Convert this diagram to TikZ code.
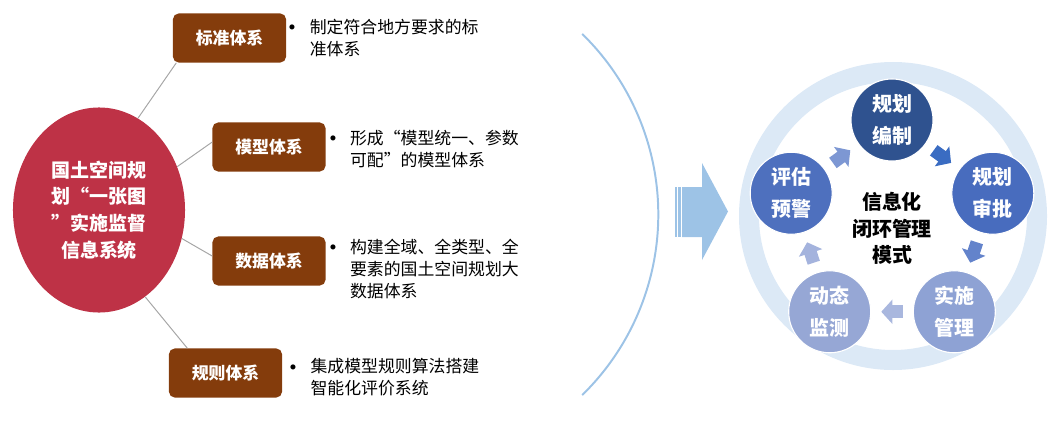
\documentclass[tikz,border=0pt]{standalone}
\usepackage{fontspec}
\setmainfont{Noto Sans CJK SC}
\usetikzlibrary{arrows.meta,positioning,shapes.geometric}
\definecolor{hubred}{RGB}{190,50,70}
\definecolor{boxbrown}{RGB}{132,60,12}
\definecolor{linegray}{RGB}{166,166,166}
\definecolor{arcblue}{RGB}{157,195,230}
\definecolor{ringblue}{RGB}{220,233,246}
\definecolor{stageA}{RGB}{47,82,143}
\definecolor{stageB}{RGB}{72,108,190}
\definecolor{stageC}{RGB}{142,162,212}
\definecolor{stageD}{RGB}{150,167,213}
\definecolor{stageE}{RGB}{78,112,190}
\definecolor{flowA}{RGB}{58,108,194}
\definecolor{flowB}{RGB}{99,131,203}
\definecolor{flowC}{RGB}{169,183,222}
\definecolor{flowD}{RGB}{164,179,221}
\definecolor{flowE}{RGB}{125,151,211}
\newcommand{\dotmark}{\llap{\raisebox{-2.2pt}{\fontsize{17}{17}\selectfont •}\hspace{3.5pt}}}
\begin{document}
\begin{tikzpicture}[x=0.025cm,y=0.025cm,node distance=0.6cm,>=Latex]
\tikzstyle{hub}=[ellipse,fill=hubred,minimum width=4.3cm,minimum height=5.125cm,inner sep=0pt,align=center,text=white,font=\fontsize{13.5}{19}\selectfont\bfseries]
\tikzstyle{box}=[fill=boxbrown,rounded corners=4pt,minimum width=2.825cm,minimum height=1.225cm,text=white,font=\fontsize{12}{14}\selectfont\bfseries]
\tikzstyle{note}=[inner sep=0pt,align=left,font=\fontsize{12}{15.4}\selectfont]
\tikzstyle{stage}=[circle,draw=white,line width=0.8pt,minimum size=2.05cm,inner sep=0pt,align=center,text=white,font=\fontsize{14.2}{22.8}\selectfont\bfseries]
\tikzstyle{flow}=[line width=0.32cm,-{Triangle[width=0.6cm,length=0.28cm]},shorten <=0.25cm,shorten >=0.25cm]
\tikzstyle{link}=[linegray,line width=0.7pt]
\useasboundingbox (0,0) rectangle (1056,423);
\node[hub] (sys) at (99,213) {国土空间规\\划“一张图\\”实施监督\\信息系统};
\node[box] (std) at (229.5,385) {标准体系};
\node[box] (mod) at (269,276) {模型体系};
\node[box] (dat) at (269,162) {数据体系};
\node[box] (rul) at (225.5,50) {规则体系};
\draw[link] (sys.67)--(std.205); \draw[link] (sys.29)--(mod.175); \draw[link] (sys.-19)--(dat.175); \draw[link] (sys.-62)--(rul.147);
\node[note,right=0.58cm of std] (stdtxt) {\dotmark 制定符合地方要求的标\\准体系};
\node[note,right=0.6cm of mod,yshift=-0.05cm] (modtxt) {\dotmark 形成“模型统一、参数\\可配”的模型体系};
\node[note,right=0.6cm of dat,yshift=-0.2cm] (dattxt) {\dotmark 构建全域、全类型、全\\要素的国土空间规划大\\数据体系};
\node[note,right=0.7cm of rul,yshift=-0.11cm] (rultxt) {\dotmark 集成模型规则算法搭建\\智能化评价系统};
\draw[arcblue,line width=1.4pt] (406,208.5) ++(45.7:252.3) arc[start angle=45.7,end angle=-45.7,radius=252.3];
\fill[arcblue] (682,186) -- (702,186) -- (702,163) -- (728,211.5) -- (702,260) -- (702,236) -- (682,236) -- cycle;
\fill[arcblue] (674.5,186) rectangle (676.5,236); \fill[arcblue] (678,186) rectangle (680.8,236);
\draw[ringblue,line width=0.5cm] (893,207) circle[radius=144];
\coordinate (ctr) at (892,197);
\node[stage,fill=stageA] (bz) at ([shift={(90:106)}]ctr) {规划\\编制};
\node[stage,fill=stageB] (sp) at ([shift={(18:106)}]ctr) {规划\\审批};
\node[stage,fill=stageC] (ss) at ([shift={(-54:106)}]ctr) {实施\\管理};
\node[stage,fill=stageD] (jc) at ([shift={(-126:106)}]ctr) {动态\\监测};
\node[stage,fill=stageE] (pg) at ([shift={(162:106)}]ctr) {评估\\预警};
\node[font=\fontsize{14.2}{18.9}\selectfont\bfseries,align=center] (mode) at (892,194.5) {信息化\\闭环管理\\模式};
\draw[flow,flowA] (bz)--(sp); \draw[flow,flowB] (sp)--(ss); \draw[flow,flowC] (ss)--(jc); \draw[flow,flowD] (jc)--(pg); \draw[flow,flowE] (pg)--(bz);
\end{tikzpicture}
\end{document}
